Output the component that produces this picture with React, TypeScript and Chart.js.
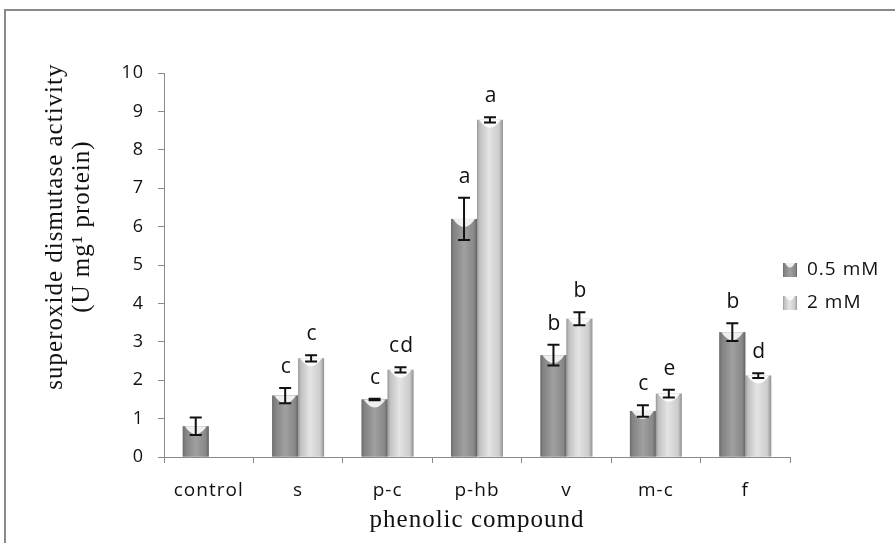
import { useEffect, useRef } from "react";
import { Chart, registerables } from "chart.js";

Chart.register(...registerables);

// ---- data ----
const categories = ["control", "s", "p-c", "p-hb", "v", "m-c", "f"];
const seriesNames = ["0.5 mM", "2 mM"];
const lowValues: (number | null)[] = [0.8, 1.6, 1.5, 6.2, 2.65, 1.2, 3.25];
const highValues: (number | null)[] = [null, 2.57, 2.27, 8.78, 3.6, 1.65, 2.12];
const lowErrors: (number | null)[] = [0.23, 0.2, 0.02, 0.55, 0.27, 0.15, 0.23];
const highErrors: (number | null)[] = [null, 0.08, 0.07, 0.07, 0.17, 0.1, 0.06];
const lowLetters = ["", "c", "c", "a", "b", "c", "b"];
const highLetters = ["", "c", "cd", "a", "b", "e", "d"];
const yMin = 0;
const yMax = 10;
const yStep = 1;
const yTitleLines = ["superoxide dismutase activity", "(U mg\u00B9 protein)"];
const xTitle = "phenolic compound";

const SANS = '"Open Sans", "DejaVu Sans", sans-serif';
const SERIF = '"Liberation Serif", "DejaVu Serif", serif';
const SPACING = "1px";

const errorsBySeries = [lowErrors, highErrors];
const lettersBySeries = [lowLetters, highLetters];

const gradStops = [
  [
    [0, "#6a6a6a"],
    [0.1, "#828282"],
    [0.5, "#a0a0a0"],
    [0.88, "#888888"],
    [1, "#636363"],
  ],
  [
    [0, "#979797"],
    [0.1, "#c0c0c0"],
    [0.45, "#e4e4e4"],
    [0.85, "#cccccc"],
    [1, "#929292"],
  ],
];

function fillBar(ctx: CanvasRenderingContext2D, s: number, left: number, top: number, w: number, h: number) {
  const g = ctx.createLinearGradient(left, 0, left + w, 0);
  for (const [o, c] of gradStops[s]) g.addColorStop(o as number, c as string);
  ctx.fillStyle = g;
  ctx.fillRect(left, top, w, h);
}

const decor = {
  id: "decor",
  beforeUpdate(chart: any) {
    chart.ctx.letterSpacing = SPACING;
  },
  beforeDraw(chart: any) {
    const ctx = chart.ctx as CanvasRenderingContext2D;
    (ctx as any).letterSpacing = SPACING;
    ctx.save();
    ctx.fillStyle = "#ffffff";
    ctx.fillRect(0, 0, chart.width, chart.height);
    ctx.strokeStyle = "#8a8a8a";
    ctx.lineWidth = 2;
    ctx.beginPath();
    ctx.moveTo(5, chart.height);
    ctx.lineTo(5, 10);
    ctx.lineTo(chart.width, 10);
    ctx.stroke();
    ctx.restore();
  },
  afterDatasetsDraw(chart: any) {
    const ctx = chart.ctx as CanvasRenderingContext2D;
    const yScale = chart.scales.y;
    ctx.save();
    chart.data.datasets.forEach((ds: any, s: number) => {
      const meta = chart.getDatasetMeta(s);
      meta.data.forEach((el: any, j: number) => {
        const v = ds.data[j];
        if (v == null) return;
        const { x, y, base, width } = el.getProps(["x", "y", "base", "width"], true);
        const left = x - width / 2;
        fillBar(ctx, s, left, y, width, base - y);
        // top cup highlight
        ctx.beginPath();
        ctx.moveTo(left + 2, y);
        ctx.quadraticCurveTo(x, y + 16, left + width - 2, y);
        ctx.closePath();
        ctx.fillStyle = s === 0 ? "rgba(255,255,255,0.85)" : "rgba(255,255,255,0.9)";
        ctx.fill();
        // error bar
        const e = errorsBySeries[s][j];
        if (e != null) {
          const yt = yScale.getPixelForValue(v + e);
          const yb = yScale.getPixelForValue(v - e);
          ctx.strokeStyle = "#111";
          ctx.lineWidth = 2;
          ctx.beginPath();
          ctx.moveTo(x, yt);
          ctx.lineTo(x, yb);
          ctx.moveTo(x - 6, yt);
          ctx.lineTo(x + 6, yt);
          ctx.moveTo(x - 6, yb);
          ctx.lineTo(x + 6, yb);
          ctx.stroke();
          const letter = lettersBySeries[s][j];
          if (letter) {
            (ctx as any).letterSpacing = SPACING;
            ctx.font = `21px ${SANS}`;
            ctx.fillStyle = "#111";
            ctx.textAlign = "center";
            ctx.textBaseline = "middle";
            ctx.fillText(letter, x + 1, yt - 21);
          }
        }
      });
    });
    ctx.restore();
  },
  afterDraw(chart: any) {
    const ctx = chart.ctx as CanvasRenderingContext2D;
    const area = chart.chartArea;
    ctx.save();
    // y axis title
    (ctx as any).letterSpacing = SPACING;
    ctx.font = `25px ${SERIF}`;
    ctx.fillStyle = "#111";
    ctx.textAlign = "center";
    ctx.textBaseline = "middle";
    const cy = area.top + (area.bottom - area.top) * 0.4;
    yTitleLines.forEach((line, i) => {
      ctx.save();
      ctx.translate(55 + i * 27, cy);
      ctx.rotate(-Math.PI / 2);
      ctx.fillText(line, 0, 0);
      ctx.restore();
    });
    // legend
    ctx.font = `19px ${SANS}`;
    ctx.textAlign = "left";
    seriesNames.forEach((name, s) => {
      const ly = 270 + s * 33;
      const bx = area.right - 7;
      fillBar(ctx, s, bx, ly - 7, 14, 14);
      ctx.beginPath();
      ctx.moveTo(bx + 2, ly - 7);
      ctx.quadraticCurveTo(bx + 7, ly + 2, bx + 12, ly - 7);
      ctx.closePath();
      ctx.fillStyle = "rgba(255,255,255,0.85)";
      ctx.fill();
      ctx.fillStyle = "#111";
      ctx.fillText(name, bx + 24, ly);
    });
    ctx.restore();
  },
};

export default function App() {
  const ref = useRef<HTMLCanvasElement>(null);
  useEffect(() => {
    document.body.style.margin = "0";
    const chart = new Chart(ref.current as HTMLCanvasElement, {
      type: "bar",
      data: {
        labels: categories,
        datasets: [
          { label: seriesNames[0], data: lowValues, backgroundColor: "#8c8c8c", borderWidth: 0 },
          { label: seriesNames[1], data: highValues, backgroundColor: "#cccccc", borderWidth: 0 },
        ],
      },
      options: {
        responsive: false,
        animation: false,
        devicePixelRatio: 1,
        layout: { padding: { left: 0, right: 105, top: 73, bottom: 0 } },
        datasets: { bar: { categoryPercentage: 0.58, barPercentage: 1.0 } },
        plugins: { legend: { display: false }, tooltip: { enabled: false } },
        scales: {
          x: {
            grid: { offset: true, drawOnChartArea: false, tickLength: 6, color: "#8a8a8a" },
            border: { color: "#8a8a8a", width: 1 },
            ticks: { color: "#111", font: { family: SANS, size: 19 }, padding: 16 },
            title: {
              display: true,
              text: xTitle,
              color: "#111",
              font: { family: SERIF, size: 25 },
              padding: { top: 0, bottom: 8 },
            },
            afterFit: (scale: any) => {
              scale.height = 86;
            },
          },
          y: {
            min: yMin,
            max: yMax,
            grid: { drawOnChartArea: false, tickLength: 6, color: "#8a8a8a" },
            border: { color: "#8a8a8a", width: 1 },
            ticks: { stepSize: yStep, color: "#111", font: { family: SANS, size: 18 }, padding: 14 },
            afterFit: (scale: any) => {
              scale.width = 164;
            },
          },
        },
      },
      plugins: [decor],
    } as any);
    return () => chart.destroy();
  }, []);
  return (
    <div style={{ width: 895, height: 543 }}>
      <canvas ref={ref} width={895} height={543} style={{ display: "block", width: 895, height: 543 }} />
    </div>
  );
}
